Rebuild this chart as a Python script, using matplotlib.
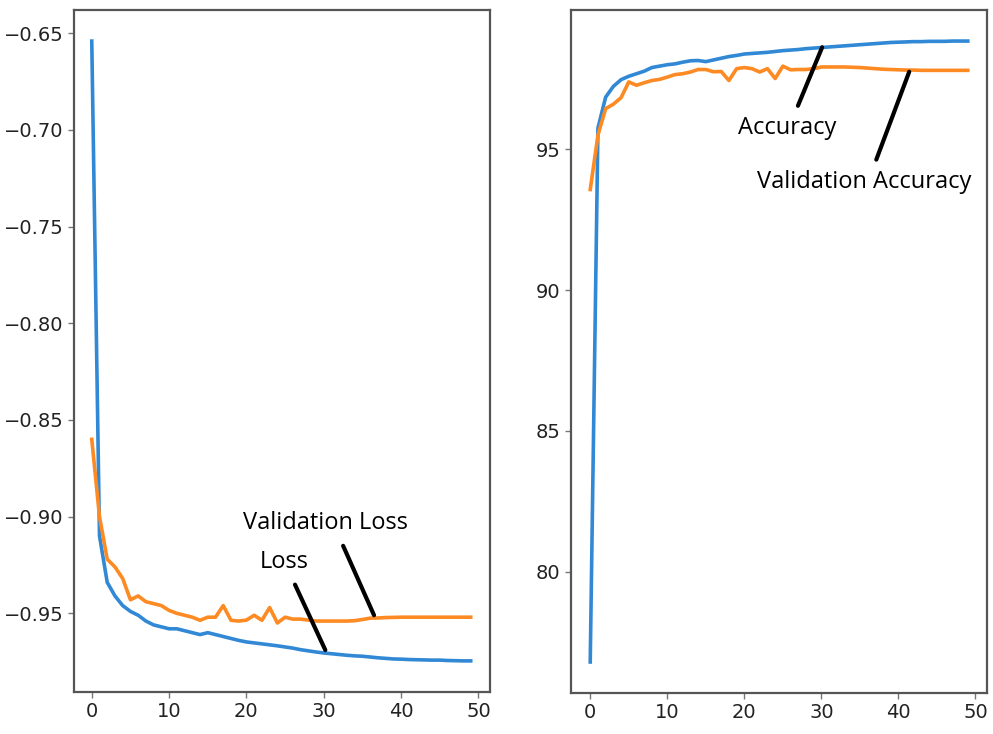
import numpy as np
import matplotlib
matplotlib.use('Agg')
import matplotlib.pyplot as plt

# Historique d'entraînement
epochs = np.arange(50)

loss = [-0.654, -0.910, -0.934, -0.941, -0.946, -0.949, -0.951, -0.954, -0.956, -0.957,
        -0.958, -0.958, -0.959, -0.960, -0.961, -0.960, -0.961, -0.962, -0.963, -0.964,
        -0.9648, -0.9653, -0.9658, -0.9663, -0.9668, -0.9674, -0.9680, -0.9688, -0.9694, -0.9700,
        -0.9705, -0.9709, -0.9713, -0.9717, -0.9720, -0.9722, -0.9726, -0.9730, -0.9733, -0.9736,
        -0.9737, -0.9739, -0.9740, -0.9741, -0.9742, -0.9742, -0.9744, -0.9745, -0.9746, -0.9746]

val_loss = [-0.860, -0.900, -0.922, -0.926, -0.932, -0.943, -0.941, -0.944, -0.945, -0.946,
            -0.9485, -0.950, -0.951, -0.952, -0.9536, -0.952, -0.952, -0.946, -0.9536, -0.954,
            -0.9535, -0.951, -0.9536, -0.947, -0.955, -0.952, -0.953, -0.953, -0.9535, -0.954,
            -0.954, -0.954, -0.954, -0.954, -0.9538, -0.9532, -0.9525, -0.9524, -0.9522, -0.9521,
            -0.952, -0.952, -0.952, -0.952, -0.952, -0.952, -0.952, -0.952, -0.952, -0.952]

acc = [76.8, 95.75, 96.85, 97.23, 97.47, 97.59, 97.68, 97.77, 97.90, 97.95,
       98.00, 98.03, 98.09, 98.14, 98.15, 98.11, 98.17, 98.23, 98.29, 98.33,
       98.38, 98.40, 98.42, 98.44, 98.47, 98.50, 98.52, 98.54, 98.57, 98.59,
       98.61, 98.63, 98.65, 98.67, 98.69, 98.71, 98.73, 98.75, 98.77, 98.79,
       98.80, 98.81, 98.82, 98.82, 98.83, 98.83, 98.83, 98.84, 98.84, 98.84]

val_acc = [93.57, 95.5, 96.44, 96.6, 96.83, 97.39, 97.27, 97.36, 97.44, 97.48,
           97.56, 97.65, 97.68, 97.74, 97.83, 97.83, 97.75, 97.76, 97.44, 97.86,
           97.90, 97.86, 97.74, 97.86, 97.51, 97.95, 97.82, 97.83, 97.83, 97.86,
           97.92, 97.92, 97.92, 97.92, 97.91, 97.90, 97.88, 97.86, 97.84, 97.83,
           97.82, 97.81, 97.81, 97.80, 97.80, 97.80, 97.80, 97.80, 97.80, 97.80]

blue   = '#3189d6'
orange = '#fd8a23'

fig = plt.figure(figsize=(9.93, 7.34), dpi=100)
ax1 = fig.add_axes([0.0745, 0.0572, 0.419, 0.929])
ax2 = fig.add_axes([0.575, 0.0559, 0.419, 0.930])

# Courbes de perte
ax1.plot(epochs, loss, color=blue, lw=2.6)
ax1.plot(epochs, val_loss, color=orange, lw=2.6)
ax1.set_xlim(-2.3, 51.5)
ax1.set_ylim(-0.9907, -0.638)
ax1.set_yticks([-0.65, -0.70, -0.75, -0.80, -0.85, -0.90, -0.95])
ax1.annotate('Validation Loss', xy=(36.5, -0.951), xytext=(30.2, -0.9035),
             ha='center', va='center', fontsize=17, family='Open Sans',
             arrowprops=dict(arrowstyle='-', lw=3, color='black',
                             relpos=(0.58, 0), shrinkA=6, shrinkB=0))
ax1.annotate('Loss', xy=(30.2, -0.969), xytext=(24.9, -0.9236),
             ha='center', va='center', fontsize=17, family='Open Sans',
             arrowprops=dict(arrowstyle='-', lw=3, color='black',
                             relpos=(0.62, 0), shrinkA=6, shrinkB=0))

# Courbes de précision
ax2.plot(epochs, acc, color=blue, lw=2.6)
ax2.plot(epochs, val_acc, color=orange, lw=2.6)
ax2.set_xlim(-2.5, 51.5)
ax2.set_ylim(75.7, 99.93)
ax2.set_yticks([80, 85, 90, 95])
ax2.annotate('Accuracy', xy=(30.1, 98.62), xytext=(25.5, 95.745),
             ha='center', va='center', fontsize=17, family='Open Sans',
             arrowprops=dict(arrowstyle='-', lw=3, color='black',
                             relpos=(0.57, 1), shrinkA=6, shrinkB=0))
ax2.annotate('Validation Accuracy', xy=(41.4, 97.75), xytext=(35.5, 93.83),
             ha='center', va='center', fontsize=17, family='Open Sans',
             arrowprops=dict(arrowstyle='-', lw=3, color='black',
                             relpos=(0.54, 1), shrinkA=6, shrinkB=0))

for ax in (ax1, ax2):
    ax.set_xticks([0, 10, 20, 30, 40, 50])
    for sp in ax.spines.values():
        sp.set_color('#555555')
        sp.set_linewidth(1.6)
    ax.tick_params(length=4, width=1, color='#777777', labelsize=14, labelcolor='#222222')

fig.savefig('out.png', dpi=100)
